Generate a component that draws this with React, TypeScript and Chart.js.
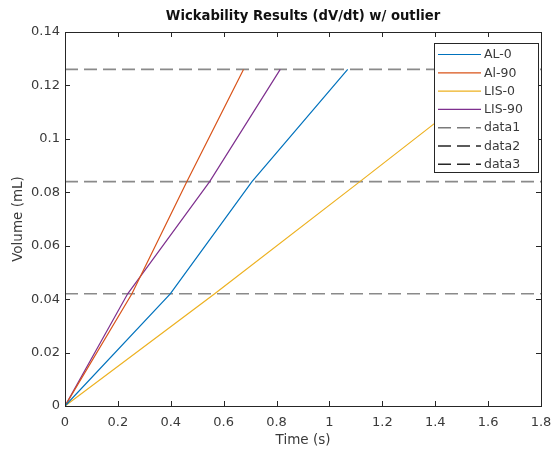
import React, { useEffect, useRef } from "react";
import { Chart, registerables } from "chart.js";

Chart.register(...registerables);

// ---- Data ----
const volumeLevels = [0, 0.042, 0.084, 0.126];
const timeAL0 = [0, 0.398, 0.707, 1.069];
const timeAl90 = [0, 0.253, 0.461, 0.675];
const timeLIS0 = [0, 0.566, 1.115, 1.66];
const timeLIS90 = [0, 0.237, 0.547, 0.814];
const thresholdLevels = [0.042, 0.084, 0.126];
const thresholdLabels = ["data1", "data2", "data3"];
const seriesLabels = ["AL-0", "Al-90", "LIS-0", "LIS-90"];
const xRange = [0, 1.8];
const yRange = [0, 0.14];
const xStep = 0.2;
const yStep = 0.02;
const titleText = "Wickability Results (dV/dt) w/ outlier";
const xTitle = "Time (s)";
const yTitle = "Volume (mL)";

const seriesColors = ["#0072BD", "#D95319", "#EDB120", "#7E2F8E"];
const dashColor = "#8a8a8a";
const legendDashColors = ["#7a7a7a", "#262626", "#262626"];
const FONT = "'DejaVu Sans', Arial, Helvetica, sans-serif";
const TEXT = "#3a3a3a";
const AXIS = "#262626";

const fmt = (v: number) => String(Number(Number(v).toFixed(3)));

const framePlugin = {
  id: "matlabFrame",
  afterDraw(chart: any) {
    const { ctx, chartArea, scales } = chart;
    const { left, right, top, bottom } = chartArea;
    ctx.save();
    // box
    ctx.strokeStyle = AXIS;
    ctx.lineWidth = 1;
    ctx.strokeRect(Math.round(left) + 0.5, Math.round(top) + 0.5, Math.round(right - left), Math.round(bottom - top));
    // inward ticks
    const tl = 5;
    scales.x.ticks.forEach((t: any) => {
      const px = Math.round(scales.x.getPixelForValue(t.value)) + 0.5;
      ctx.beginPath();
      ctx.moveTo(px, bottom);
      ctx.lineTo(px, bottom - tl);
      ctx.moveTo(px, top);
      ctx.lineTo(px, top + tl);
      ctx.stroke();
    });
    scales.y.ticks.forEach((t: any) => {
      const py = Math.round(scales.y.getPixelForValue(t.value)) + 0.5;
      ctx.beginPath();
      ctx.moveTo(left, py);
      ctx.lineTo(left + tl, py);
      ctx.moveTo(right, py);
      ctx.lineTo(right - tl, py);
      ctx.stroke();
    });
    // title
    ctx.fillStyle = "#111";
    ctx.font = `bold 13.2px ${FONT}`;
    ctx.textAlign = "center";
    ctx.textBaseline = "middle";
    ctx.fillText(titleText, (left + right) / 2, 16.5);

    // legend
    const bx = right - 107;
    const by = top + 11;
    const bw = 104;
    const bh = 129;
    ctx.fillStyle = "#ffffff";
    ctx.fillRect(bx, by, bw, bh);
    ctx.strokeStyle = AXIS;
    ctx.lineWidth = 1;
    ctx.strokeRect(Math.round(bx) + 0.5, Math.round(by) + 0.5, bw, bh);
    ctx.font = `12.5px ${FONT}`;
    ctx.textAlign = "left";
    ctx.textBaseline = "middle";
    chart.data.datasets.forEach((ds: any, i: number) => {
      const ry = by + 11.5 + i * 18.3;
      ctx.save();
      ctx.strokeStyle = ds.legendColor || ds.borderColor;
      ctx.lineWidth = ds.borderWidth;
      ctx.setLineDash(ds.borderDash || []);
      ctx.beginPath();
      ctx.moveTo(bx + 4, ry);
      ctx.lineTo(bx + 47, ry);
      ctx.stroke();
      ctx.restore();
      ctx.fillStyle = TEXT;
      ctx.fillText(ds.label, bx + 50, ry + 0.5);
    });
    ctx.restore();
  },
};

export default function App() {
  const ref = useRef<HTMLCanvasElement | null>(null);
  useEffect(() => {
    if (!ref.current) return;
    const seriesTimes = [timeAL0, timeAl90, timeLIS0, timeLIS90];
    const datasets: any[] = seriesTimes.map((times, i) => ({
      label: seriesLabels[i],
      data: times.map((t, j) => ({ x: t, y: volumeLevels[j] })),
      borderColor: seriesColors[i],
      backgroundColor: seriesColors[i],
      borderWidth: 1.2,
      pointRadius: 0,
      fill: false,
      tension: 0,
    }));
    thresholdLevels.forEach((lvl, i) => {
      datasets.push({
        label: thresholdLabels[i],
        data: [
          { x: xRange[0], y: lvl },
          { x: xRange[1], y: lvl },
        ],
        borderColor: dashColor,
        legendColor: legendDashColors[i],
        borderWidth: 1.6,
        borderDash: [13, 6],
        pointRadius: 0,
        fill: false,
      });
    });
    const chart = new Chart(ref.current, {
      type: "line",
      data: { datasets },
      options: {
        responsive: false,
        animation: false,
        layout: { padding: { top: 32, right: 11, bottom: 0, left: 0 } },
        plugins: {
          legend: { display: false },
          title: { display: false },
          tooltip: { enabled: false },
        },
        scales: {
          x: {
            type: "linear",
            min: xRange[0],
            max: xRange[1],
            grid: { display: false, drawTicks: false },
            border: { display: false },
            ticks: {
              stepSize: xStep,
              autoSkip: false,
              maxRotation: 0,
              padding: 9,
              color: TEXT,
              font: { family: FONT, size: 13 },
              callback: (v: any) => fmt(v),
            },
            title: {
              display: true,
              text: xTitle,
              color: TEXT,
              font: { family: FONT, size: 13.5 },
              padding: { top: 0, bottom: 6 },
            },
            afterFit: (s: any) => {
              s.height = 49;
              s.paddingLeft = 0;
              s.paddingRight = 0;
            },
          },
          y: {
            type: "linear",
            min: yRange[0],
            max: yRange[1],
            grid: { display: false, drawTicks: false },
            border: { display: false },
            ticks: {
              stepSize: yStep,
              autoSkip: false,
              padding: 5,
              color: TEXT,
              font: { family: FONT, size: 13 },
              callback: (v: any) => fmt(v),
            },
            title: {
              display: true,
              text: yTitle,
              color: TEXT,
              font: { family: FONT, size: 13.5 },
              padding: { top: 10, bottom: 0 },
            },
            afterFit: (s: any) => {
              s.width = 65;
              s.paddingTop = 0;
              s.paddingBottom = 0;
            },
          },
        },
      },
      plugins: [framePlugin],
    });
    return () => chart.destroy();
  }, []);
  return (
    <div style={{ position: "fixed", left: 0, top: 0, width: 552, height: 455, background: "#fff" }}>
      <canvas ref={ref} width={552} height={455} style={{ width: 552, height: 455 }} />
    </div>
  );
}
